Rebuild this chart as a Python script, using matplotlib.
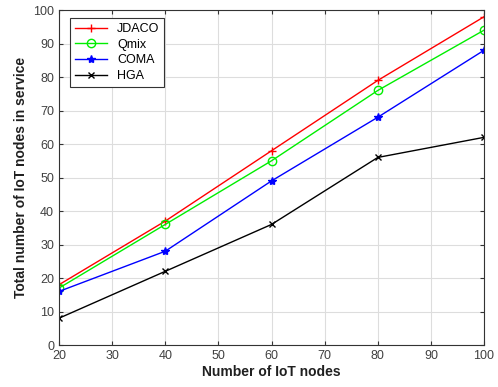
import matplotlib
matplotlib.use("Agg")
import matplotlib.pyplot as plt

plt.rcParams['font.family'] = ['Liberation Sans', 'DejaVu Sans']

nodes = [20, 40, 60, 80, 100]
jdaco = [18, 37, 58, 79, 98]
qmix = [17, 36, 55, 76, 94]
coma = [16, 28, 49, 68, 88]
hga = [8, 22, 36, 56, 62]

fig = plt.figure(figsize=(4.98, 3.87), dpi=100)
ax = fig.add_axes([0.1185, 0.1085, 0.8535, 0.8655])

ax.plot(nodes, jdaco, color='#ff0000', marker='+', ms=6, lw=1.0, label='JDACO')
ax.plot(nodes, qmix, color='#00ee00', marker='o', ms=6, mfc='none', lw=1.0, label='Qmix')
ax.plot(nodes, coma, color='#0000ff', marker='*', ms=6, lw=1.0, label='COMA')
ax.plot(nodes, hga, color='#000000', marker='x', ms=4.5, lw=1.0, label='HGA')

ax.set_xlim(20, 100)
ax.set_ylim(0, 100)
ax.set_xticks(range(20, 101, 10))
ax.set_yticks(range(0, 101, 10))
ax.grid(True, color='#dddddd', lw=0.8)
ax.set_axisbelow(True)
ax.tick_params(direction='in', labelsize=9, length=3, top=True, right=True,
               labelcolor='#404040', color='#333333')
for s in ax.spines.values():
    s.set_color('#333333')
    s.set_linewidth(0.8)

ax.set_xlabel('Number of IoT nodes', fontsize=10, fontweight='bold', labelpad=2, color='#202020')
ax.set_ylabel('Total number of IoT nodes in service', fontsize=10, fontweight='bold', labelpad=4, color='#202020')

leg = ax.legend(loc='upper left', fontsize=9, fancybox=False, framealpha=1,
                edgecolor='#333333', handlelength=2.6, borderpad=0.4, labelspacing=0.3,
                bbox_to_anchor=(0.01, 0.995))
leg.get_frame().set_linewidth(0.8)

fig.savefig('out.png', dpi=100)
